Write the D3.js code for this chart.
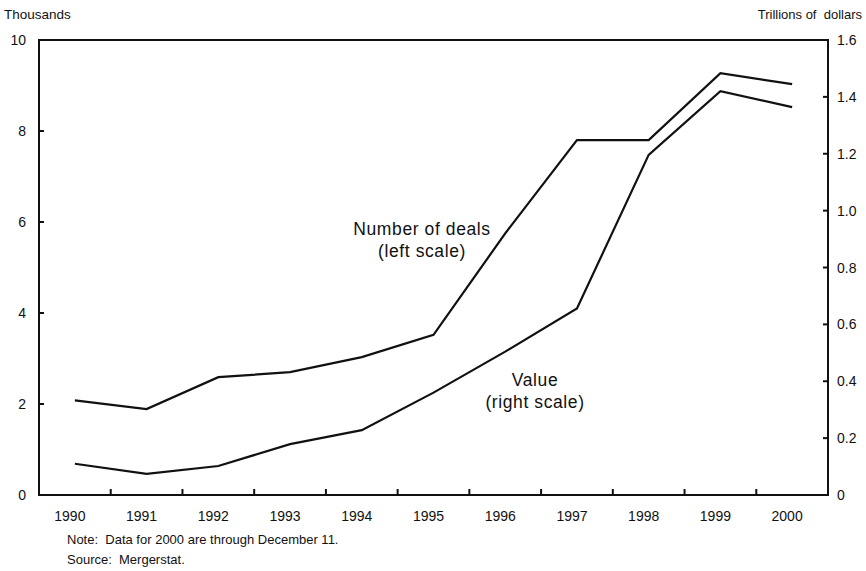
<!DOCTYPE html>
<html>
<head>
<meta charset="utf-8">
<script src="https://cdnjs.cloudflare.com/ajax/libs/d3/7.8.5/d3.min.js"></script>
<style>
  body { margin: 0; background: #fff; }
  svg text { font-family: "Liberation Sans", Arial, sans-serif; fill: #111; }
</style>
</head>
<body>
<div id="chart"></div>
<script>
// data
var years = ["1990", "1991", "1992", "1993", "1994", "1995", "1996", "1997", "1998", "1999", "2000"];
var deals = [2.08, 1.89, 2.59, 2.70, 3.03, 3.52, 5.75, 7.80, 7.80, 9.27, 9.03];       // thousands, left scale
var values = [0.11, 0.074, 0.102, 0.179, 0.228, 0.36, 0.504, 0.656, 1.196, 1.42, 1.364]; // trillions, right scale
var leftTicks = [0, 2, 4, 6, 8, 10];
var rightTicks = [0, 0.2, 0.4, 0.6, 0.8, 1.0, 1.2, 1.4, 1.6];

var w = 866, h = 571;
var plotL = 39, plotR = 828, plotT = 40, plotB = 495;

var svg = d3.select("#chart").append("svg")
    .attr("width", w)
    .attr("height", h);

var x = d3.scaleBand().domain(years).range([plotL, plotR]).padding(0);
var yL = d3.scaleLinear().domain([0, 10]).range([plotB, plotT]);
var yR = d3.scaleLinear().domain([0, 1.6]).range([plotB, plotT]);

//frame
svg.append("rect")
    .attr("x", plotL)
    .attr("y", plotT)
    .attr("width", plotR - plotL)
    .attr("height", plotB - plotT)
    .attr("fill", "none")
    .attr("stroke", "#111")
    .attr("stroke-width", 2);

//left axis ticks and labels
svg.selectAll(".ltick").data(leftTicks).enter().append("line")
    .attr("x1", plotL).attr("x2", plotL + 5)
    .attr("y1", function (d) { return yL(d); })
    .attr("y2", function (d) { return yL(d); })
    .attr("stroke", "#111").attr("stroke-width", 2);

svg.selectAll(".llab").data(leftTicks).enter().append("text")
    .attr("x", 26)
    .attr("y", function (d) { return yL(d) + 5; })
    .attr("text-anchor", "end")
    .attr("font-size", 14)
    .text(function (d) { return d; });

//right axis ticks and labels
svg.selectAll(".rtick").data(rightTicks).enter().append("line")
    .attr("x1", plotR - 5).attr("x2", plotR)
    .attr("y1", function (d) { return yR(d); })
    .attr("y2", function (d) { return yR(d); })
    .attr("stroke", "#111").attr("stroke-width", 2);

svg.selectAll(".rlab").data(rightTicks).enter().append("text")
    .attr("x", 837)
    .attr("y", function (d) { return yR(d) + 5; })
    .attr("text-anchor", "start")
    .attr("font-size", 14)
    .text(function (d) { return d === 0 ? "0" : d3.format(".1f")(d); });

//bottom ticks between years
svg.selectAll(".xtick").data(years.slice(1)).enter().append("line")
    .attr("x1", function (d) { return x(d); })
    .attr("x2", function (d) { return x(d); })
    .attr("y1", plotB).attr("y2", plotB - 6)
    .attr("stroke", "#111").attr("stroke-width", 2);

svg.selectAll(".xlab").data(years).enter().append("text")
    .attr("x", function (d) { return x(d) + x.bandwidth() / 2 - 5; })
    .attr("y", 521)
    .attr("text-anchor", "middle")
    .attr("font-size", 14)
    .text(function (d) { return d; });

//lines
var lineL = d3.line()
    .x(function (d, i) { return x(years[i]) + x.bandwidth() / 2; })
    .y(function (d) { return yL(d); });
var lineR = d3.line()
    .x(function (d, i) { return x(years[i]) + x.bandwidth() / 2; })
    .y(function (d) { return yR(d); });

svg.append("path").datum(deals)
    .attr("d", lineL)
    .attr("fill", "none").attr("stroke", "#111").attr("stroke-width", 2.2);
svg.append("path").datum(values)
    .attr("d", lineR)
    .attr("fill", "none").attr("stroke", "#111").attr("stroke-width", 2.2);

//series labels
var lab = svg.append("g").attr("font-size", 17.5).attr("letter-spacing", 0.6).attr("text-anchor", "middle");
lab.append("text").attr("x", 422).attr("y", 235).text("Number of deals");
lab.append("text").attr("x", 422).attr("y", 257).text("(left scale)");
lab.append("text").attr("x", 535).attr("y", 386).text("Value");
lab.append("text").attr("x", 535).attr("y", 408).text("(right scale)");

//unit labels
svg.append("text").attr("x", 4).attr("y", 19).attr("font-size", 13.5).text("Thousands");
svg.append("text").attr("x", 862).attr("y", 19).attr("font-size", 13)
    .attr("text-anchor", "end").attr("xml:space", "preserve").text("Trillions of  dollars");

//note and source
svg.append("text").attr("x", 67).attr("y", 544).attr("font-size", 13)
    .attr("xml:space", "preserve").text("Note:  Data for 2000 are through December 11.");
svg.append("text").attr("x", 67).attr("y", 564).attr("font-size", 13)
    .attr("xml:space", "preserve").text("Source:  Mergerstat.");
</script>
</body>
</html>
